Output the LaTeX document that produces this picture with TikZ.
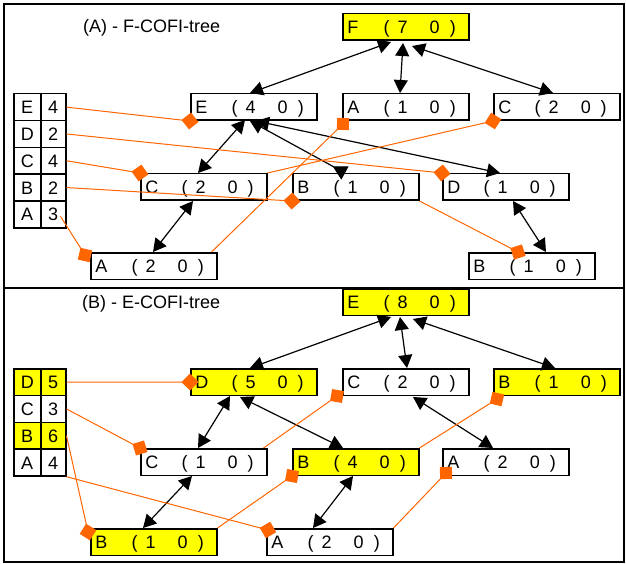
\documentclass[tikz,border=0pt]{standalone}
\usepackage{fontspec}
\setmainfont{Liberation Sans}
\usetikzlibrary{arrows.meta,calc}
\definecolor{org}{HTML}{FF6600}
\definecolor{yel}{HTML}{FFFF00}
\newcommand\myfont{\fontsize{18}{18}\selectfont}
\newcommand\rec[3]{\makebox[126pt][l]{\hspace{4.5pt}\makebox[36.5pt][l]{#1}(\hspace{8pt}#2\hspace{22pt}#3\hspace{10pt})}}
\newcommand\trow[5]{%
 \node[cell,minimum width=27pt,fill=#5] (#1l) at (13,#2) {#3};
 \node[cell,minimum width=25pt,fill=#5] (#1v) at (40,#2) {#4};}
\tikzset{
 rec/.style={draw,line width=1.5pt,anchor=north west,minimum width=126pt,minimum height=26.5pt,inner sep=0pt,text height=13pt,text depth=0pt,font=\myfont,fill=white},
 hi/.style={fill=yel},
 cell/.style={draw,line width=1.5pt,anchor=north west,minimum height=26.8pt,inner sep=0pt,text height=13pt,text depth=0pt,font=\myfont},
 link/.style={draw=org,line width=1pt,-{Turned Square[length=17pt,width=17pt,fill=org]},shorten >=-8.5pt},
 dbl/.style={line width=1.2pt,{Triangle[length=13pt,width=14pt]}-{Triangle[length=13pt,width=14pt]}},
 dblrev/.style={line width=1.2pt,{Triangle[length=13pt,width=14pt]}-{Triangle[reversed,length=14pt,width=15pt]}},
 ttl/.style={anchor=base west,inner sep=0pt,font=\myfont}
}
\begin{document}
\begin{tikzpicture}[x=1pt,y=-1pt]
\useasboundingbox (0,0) rectangle (626,564);
\fill[white] (0,0) rectangle (626,564);
\draw[line width=1.5pt] (4,4) rectangle (624,288);
\draw[line width=1.5pt] (4,288) rectangle (624,562);
% ---------- (A) ----------
\node[ttl] (ta) at (83,33) {(A) - F-COFI-tree};
\trow{tTE}{93}{E}{4}{white}
\trow{tTD}{119.8}{D}{2}{white}
\trow{tTC}{146.6}{C}{4}{white}
\trow{tTB}{173.4}{B}{2}{white}
\trow{tTA}{200.2}{A}{3}{white}
\node[rec,hi] (tF) at (342,13) {\rec{F}{7}{0}};
\node[rec] (tE) at (190,93) {\rec{E}{4}{0}};
\node[rec] (tA1) at (342,93) {\rec{A}{1}{0}};
\node[rec] (tC2) at (493,93) {\rec{C}{2}{0}};
\node[rec] (tC1) at (140,173) {\rec{C}{2}{0}};
\node[rec] (tB1) at (292,173) {\rec{B}{1}{0}};
\node[rec] (tD) at (442,173) {\rec{D}{1}{0}};
\node[rec] (tA2) at (90,252) {\rec{A}{2}{0}};
\node[rec] (tB2) at (468,252) {\rec{B}{1}{0}};
% arrows
\draw[dbl] ($(tF.north west)+(49,29)$) -- ($(tE.north west)+(60,0)$);
\draw[dbl] ($(tF.north west)+(61,30)$) -- ($(tA1.north west)+(58,0)$);
\draw[dbl] ($(tF.north west)+(70,33)$) -- ($(tC2.north west)+(60,0)$);
\draw[dbl] ($(tE.north west)+(55,27)$) -- ($(tC1.north west)+(58,0)$);
\draw[dbl] ($(tC1.north west)+(53,28)$) -- ($(tA2.north west)+(63,0)$);
\draw[dblrev] ($(tE.north west)+(60,28)$) -- ($(tB1.north west)+(53,0)$);
\draw[dbl] ($(tE.north west)+(66,28)$) -- ($(tD.north west)+(58,0)$);
\draw[dbl] ($(tD.north west)+(71,28)$) -- ($(tB2.north west)+(78,0)$);
% links
\draw[link] (tTEv.east) -- (tE.south west);
\draw[link] (tTDv.east) -- (tD.north west);
\draw[link] (tTCv.east) -- (tC1.north west);
\draw[link] (tTBv.east) -- (tB1.south west);
\draw[link] ($(tTAv.east)+(-6,2)$) -- ($(tA2.north west)+(-5,3)$);
\draw[link] ($(tA2.north east)+(-6,0)$) -- ($(tA1.south west)+(1,3)$);
\draw[link] (tC1.north east) -- (tC2.south west);
\draw[link] (tB1.south east) -- ($(tB2.north west)+(50,0)$);
% ---------- (B) ----------
\node[ttl] (tb) at (82,308) {(B) - E-COFI-tree};
\trow{bTD}{368}{D}{5}{yel}
\trow{bTC}{394.8}{C}{3}{white}
\trow{bTB}{421.6}{B}{6}{yel}
\trow{bTA}{448.4}{A}{4}{white}
\node[rec,hi] (bE) at (342,288) {\rec{E}{8}{0}};
\node[rec,hi] (bD) at (190,368) {\rec{D}{5}{0}};
\node[rec] (bC2) at (342,368) {\rec{C}{2}{0}};
\node[rec,hi] (bB1r) at (493,368) {\rec{B}{1}{0}};
\node[rec] (bC1) at (140,448) {\rec{C}{1}{0}};
\node[rec,hi] (bB4) at (292,448) {\rec{B}{4}{0}};
\node[rec] (bA2r) at (442,448) {\rec{A}{2}{0}};
\node[rec,hi] (bB1l) at (90,528) {\rec{B}{1}{0}};
\node[rec] (bA2b) at (266,528) {\rec{A}{2}{0}};
% arrows
\draw[dbl] ($(bE.north west)+(49,29)$) -- ($(bD.north west)+(60,0)$);
\draw[dbl] ($(bE.north west)+(58,29)$) -- ($(bC2.north west)+(65,0)$);
\draw[dbl] ($(bE.north west)+(71,31)$) -- ($(bB1r.north west)+(62,0)$);
\draw[dbl] ($(bD.north west)+(40,28)$) -- ($(bC1.north west)+(58,0)$);
\draw[dbl] ($(bD.north west)+(50,29)$) -- ($(bB4.north west)+(51,0)$);
\draw[dbl] ($(bC2.north west)+(71,29)$) -- ($(bA2r.north west)+(51,0)$);
\draw[dbl] ($(bC1.north west)+(52,28)$) -- ($(bB1l.north west)+(53,0)$);
\draw[dbl] ($(bB4.north west)+(61,28)$) -- ($(bA2b.north west)+(47,0)$);
% links
\draw[link] (bTDv.east) -- (bD.west);
\draw[link] (bTCv.east) -- (bC1.north west);
\draw[link] (bTBv.east) -- ($(bB1l.north west)+(-2,4)$);
\draw[link] (bTAv.south east) -- ($(bA2b.north west)+(2,2)$);
\draw[link] ($(bC1.north east)+(-4,0)$) -- ($(bC2.south west)+(-5,0)$);
\draw[link] (bB1l.north east) -- (bB4.south west);
\draw[link] (bB4.north east) -- ($(bB1r.south west)+(4,3)$);
\draw[link] (bA2b.north east) -- ($(bA2r.south west)+(4,-3)$);
\end{tikzpicture}
\end{document}
